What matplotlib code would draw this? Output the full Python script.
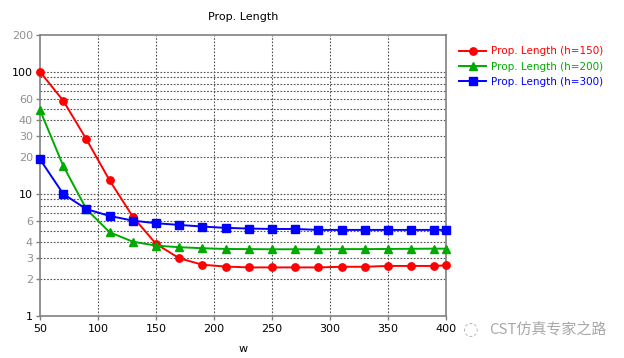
import matplotlib
matplotlib.use("Agg")
import matplotlib.pyplot as plt
from matplotlib.ticker import FixedLocator, NullFormatter

plt.rcParams['font.family'] = ['DejaVu Sans']

w = [50, 70, 90, 110, 130, 150, 170, 190, 210, 230, 250, 270, 290, 310, 330, 350, 370, 390, 400]
h150 = [100, 58, 28, 12.9, 6.5, 3.9, 2.97, 2.63, 2.54, 2.5, 2.5, 2.5, 2.5, 2.53, 2.53, 2.57, 2.57, 2.57, 2.6]
h200 = [48.5, 17, 7.5, 4.85, 4.06, 3.77, 3.66, 3.59, 3.54, 3.53, 3.52, 3.52, 3.52, 3.53, 3.53, 3.54, 3.55, 3.56, 3.56]
h300 = [19.2, 10, 7.5, 6.6, 6.04, 5.75, 5.57, 5.4, 5.27, 5.2, 5.16, 5.16, 5.07, 5.07, 5.07, 5.07, 5.07, 5.07, 5.07]
series_labels = ["Prop. Length (h=150)", "Prop. Length (h=200)", "Prop. Length (h=300)"]
x_ticks = [50, 100, 150, 200, 250, 300, 350, 400]
y_ticks = [1, 2, 3, 4, 6, 10, 20, 30, 40, 60, 100, 200]
y_grid = [2, 3, 4, 5, 6, 7, 8, 9, 10, 20, 30, 40, 50, 60, 70, 80, 90, 100]

W, H = 624, 358
fig = plt.figure(figsize=(W / 100, H / 100), dpi=100)
ax = fig.add_axes([40 / W, (H - 316) / H, (446 - 40) / W, (316 - 35) / H])
ax.set_yscale('log')
ax.set_xlim(50, 400)
ax.set_ylim(1, 200)

ax.plot(w, h150, color='#ff0000', marker='o', ms=5.3, lw=1.4, label=series_labels[0], clip_on=False, zorder=5)
ax.plot(w, h200, color='#00aa00', marker='^', ms=5.8, lw=1.4, label=series_labels[1], clip_on=False, zorder=5)
ax.plot(w, h300, color='#0000ff', marker='s', ms=5.3, lw=1.4, label=series_labels[2], clip_on=False, zorder=5)

ax.xaxis.set_major_locator(FixedLocator(x_ticks))
ax.set_xticklabels([str(v) for v in x_ticks], fontsize=8)
ax.yaxis.set_major_locator(FixedLocator(y_ticks))
ax.yaxis.set_minor_locator(FixedLocator([]))
ax.yaxis.set_minor_formatter(NullFormatter())
ax.set_yticklabels([str(v) for v in y_ticks], fontsize=8)
for lbl, v in zip(ax.get_yticklabels(), y_ticks):
    lbl.set_color('black' if v in (1, 10, 100) else '#909090')

for v in y_grid:
    ax.axhline(v, color='#505050', lw=0.8, ls=(0, (1.5, 1.5)), zorder=1)
for v in x_ticks[1:-1]:
    ax.axvline(v, color='#505050', lw=0.8, ls=(0, (1.5, 1.5)), zorder=1)

for s in ax.spines.values():
    s.set_color('#808080')
    s.set_linewidth(1.2)
ax.tick_params(axis='both', direction='out', length=3, color='#808080', width=1)
ax.tick_params(axis='x', pad=3)
ax.tick_params(axis='y', pad=2)

ax.set_title("Prop. Length", fontsize=8, pad=11)
ax.set_xlabel("w", fontsize=8, labelpad=7)

leg = fig.legend(loc='upper left', bbox_to_anchor=(450 / W, 1 - 37 / H), frameon=False,
                 fontsize=7.5, handlelength=2.6, labelspacing=0.5, handletextpad=0.4)
for t, c in zip(leg.get_texts(), ['#ff0000', '#00aa00', '#0000ff']):
    t.set_color(c)

fig.text(489 / W, 1 - 329 / H, "CST仿真专家之路", fontsize=10.8, color='#a8a8a8',
         family=['Noto Sans CJK SC', 'DejaVu Sans'], va='center')
fig.text(471 / W, 1 - 330 / H, "◌", fontsize=13, color='#b8b8b8', va='center', ha='center')

fig.savefig("out.png", dpi=100)
